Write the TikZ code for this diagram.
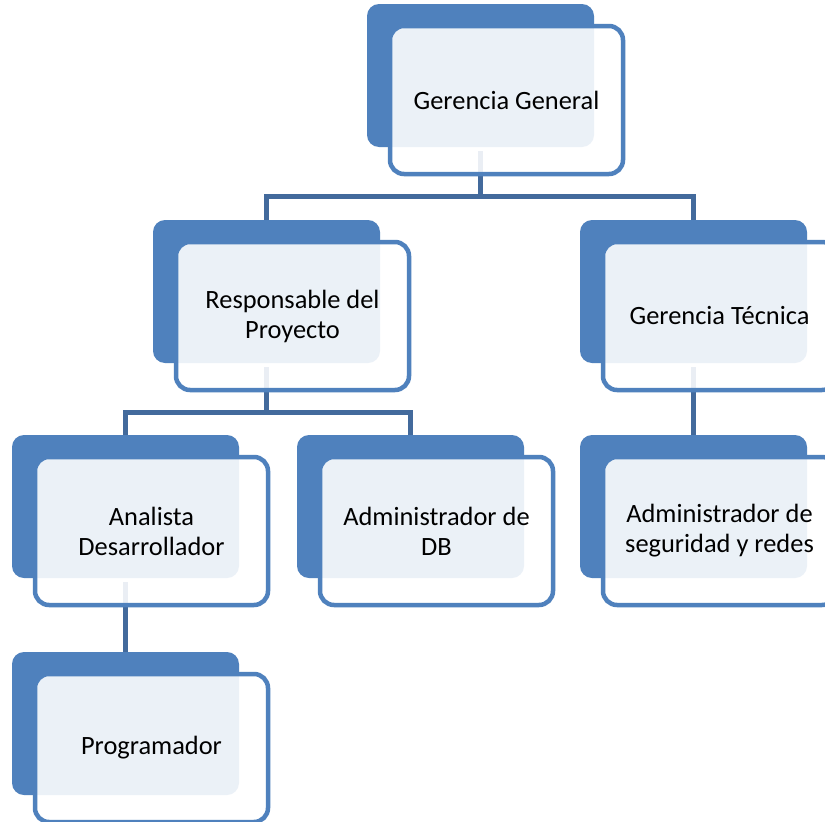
\documentclass[tikz,border=0pt]{standalone}
\usepackage{fontspec}
\setmainfont{Carlito}
\definecolor{boxblue}{RGB}{79,129,189}
\definecolor{connblue}{RGB}{67,106,156}
\pgfdeclarelayer{bg}
\pgfsetlayers{bg,main}
\tikzset{
  darkbox/.style={fill=boxblue, rounded corners=12pt, minimum width=227pt, minimum height=143pt, inner sep=0pt},
  frontbox/.style={draw=boxblue, line width=4.5pt, fill=white, fill opacity=0.89, text opacity=1,
    rounded corners=14pt, minimum width=233pt, minimum height=148pt, inner sep=0pt,
    align=center, font=\fontsize{26.4}{30}\selectfont},
  conn/.style={draw=connblue, line width=5pt},
}
\begin{document}
\begin{tikzpicture}[x=1pt,y=-1pt]
\useasboundingbox (0,0) rectangle (825,822);
\clip (0,0) rectangle (825,822);
% back boxes and front boxes
\node[darkbox] (gg) at (480.5,75.5) {};
\node[frontbox] (ggf) at ([shift={(26,24.5)}]gg.center) {Gerencia General};
\node[darkbox] (rp) at (266.5,291.5) {};
\node[frontbox] (rpf) at ([shift={(26,24.5)}]rp.center) {Responsable del\\Proyecto};
\node[darkbox] (gt) at (693.5,291.5) {};
\node[frontbox] (gtf) at ([shift={(26,24.5)}]gt.center) {Gerencia Técnica};
\node[darkbox] (ad) at (125.5,506.5) {};
\node[frontbox] (adf) at ([shift={(26,24.5)}]ad.center) {Analista\\Desarrollador};
\node[darkbox] (adb) at (410.5,506.5) {};
\node[frontbox] (adbf) at ([shift={(26,24.5)}]adb.center) {Administrador de\\DB};
\node[darkbox] (asr) at (693.5,506.5) {};
\node[frontbox] (asrf) at ([shift={(26,24.5)}]asr.center) {Administrador de\\seguridad y redes};
\node[darkbox] (pr) at (125.5,723.5) {};
\node[frontbox] (prf) at ([shift={(26,24.5)}]pr.center) {Programador};
% connectors (behind)
\begin{pgfonlayer}{bg}
\fill[white] (0,0) rectangle (825,822);
\coordinate (b1) at ([yshift=-49pt]gg.south);
\coordinate (b2) at ([yshift=-49pt]rp.south);
\draw[conn] ([yshift=-4pt]gg.south) -- (b1);
\draw[conn] (rp.north) -- (rp.north |- b1) -- (gt.north |- b1) -- (gt.north);
\draw[conn] ([yshift=-4pt]rp.south) -- (b2);
\draw[conn] (ad.north) -- (ad.north |- b2) -- (adb.north |- b2) -- (adb.north);
\draw[conn] ([yshift=-4pt]gt.south) -- (asr.north);
\draw[conn] ([yshift=-4pt]ad.south) -- (pr.north);
\end{pgfonlayer}
\end{tikzpicture}
\end{document}
